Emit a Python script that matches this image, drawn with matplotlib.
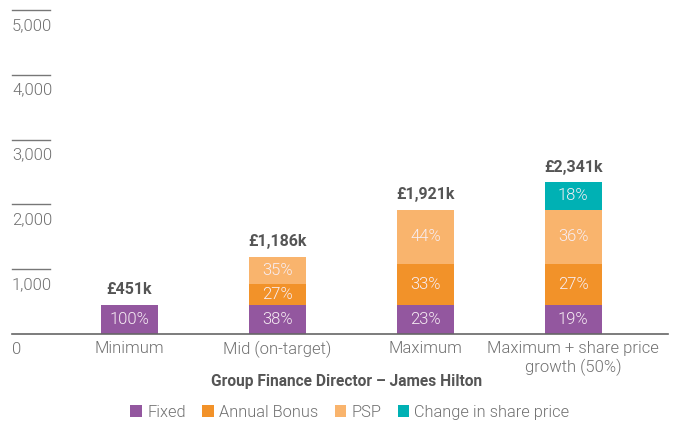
import matplotlib.pyplot as plt
import numpy as np

# Remuneration scenarios (£k) and the split of each total, in percent
scenarios = ["Minimum", "Mid (on-target)", "Maximum", "Maximum + share price\ngrowth (50%)"]
totals = [451, 1186, 1921, 2341]
fixed_pct = [100, 38, 23, 19]
bonus_pct = [0, 27, 33, 27]
psp_pct = [0, 35, 44, 36]
share_pct = [0, 0, 0, 18]

components = ["Fixed", "Annual Bonus", "PSP", "Change in share price"]
colors = ["#93579f", "#f29229", "#f9b46d", "#00b1b4"]
y_ticks = [1000, 2000, 3000, 4000, 5000]

plt.rcParams["font.family"] = ["Roboto", "DejaVu Sans"]
LIGHT = 300
GREY = "#707070"

fig = plt.figure(figsize=(6.73, 4.23), dpi=100)
ax = fig.add_axes([12 / 673, 1 - 334 / 423, (668 - 12) / 673, (334 - 10) / 423])

x = np.arange(len(scenarios))
width = 0.385
bottom = np.zeros(len(scenarios))
for name, pcts, col in zip(components, [fixed_pct, bonus_pct, psp_pct, share_pct], colors):
    vals = np.array(pcts) / 100 * np.array(totals)
    ax.bar(x, vals, width, bottom=bottom, color=col, label=name, linewidth=0)
    for xi, b, v, p in zip(x, bottom, vals, pcts):
        if p > 0:
            ax.text(xi, b + v / 2, f"{p}%", ha="center", va="center",
                    color="#f7eef4", fontsize=12, fontweight=LIGHT)
    bottom += vals

for xi, t in zip(x, totals):
    ax.text(xi, t + 120, f"£{t:,}k", ha="center", va="bottom",
            color="#555555", fontsize=11.5, fontweight="bold")

ax.set_xlim(-0.794, 3.64)
ax.set_ylim(0, 5000)

# short gridline stubs above each y label
for v in y_ticks:
    ax.plot([0, 38 / 656], [v, v], transform=ax.get_yaxis_transform(),
            color="#777777", linewidth=1, clip_on=False)
    ax.text(0, v - 120, f"{v:,}", transform=ax.get_yaxis_transform(),
            ha="left", va="top", color=GREY, fontsize=12, fontweight=LIGHT)
ax.text(0, -120, "0", transform=ax.get_yaxis_transform(),
        ha="left", va="top", color=GREY, fontsize=12, fontweight=LIGHT)

for s in ["top", "right", "left"]:
    ax.spines[s].set_visible(False)
ax.spines["bottom"].set_color("#666666")
ax.spines["bottom"].set_linewidth(1.2)
ax.set_yticks([])
ax.set_xticks(x)
ax.set_xticklabels(scenarios, color=GREY, fontsize=12, fontweight=LIGHT,
                   linespacing=1.2)
ax.tick_params(axis="x", length=0, pad=5)

fig.text(347 / 673, 1 - 381 / 423, "Group Finance Director – James Hilton",
         ha="center", va="center", color="#555555", fontsize=11.2, fontweight="bold")

fig.legend(loc="center", bbox_to_anchor=(350 / 673, 1 - 412 / 423), ncol=4,
           frameon=False, handlelength=0.72, handleheight=0.72, handletextpad=0.3,
           columnspacing=1.0, prop={"size": 11.8, "weight": LIGHT},
           labelcolor=GREY)

fig.savefig("out.png", dpi=100)
